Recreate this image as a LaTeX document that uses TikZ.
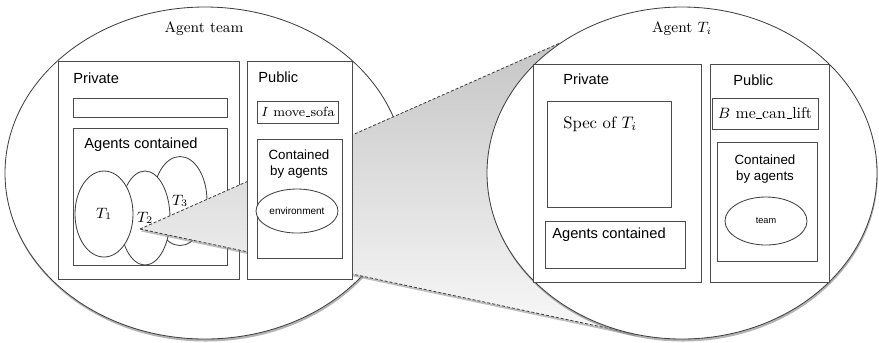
\documentclass[tikz,border=0pt]{standalone}
\usepackage{fontspec}
\setsansfont{Liberation Sans}
\usepackage{tikz}
\usetikzlibrary{shapes.geometric,shadows}
\newcommand{\usc}{\kern.04em\rule[-0.12ex]{0.32em}{0.4pt}\kern.04em}
\tikzset{
  box/.style={draw=black!70, fill=white, line width=0.5pt},
  bubble/.style={draw=black!75, fill=white, line width=0.5pt,
    drop shadow={shadow xshift=0.4pt, shadow yshift=-1.5pt, opacity=0.6}},
  lbl/.style={font=\sffamily\fontsize{8.8}{10}\selectfont, inner sep=0pt, anchor=west},
  cont/.style={font=\sffamily\fontsize{8}{9.6}\selectfont, align=center, inner sep=0pt},
  agell/.style={ellipse, draw=black!75, fill=white, line width=0.5pt, inner sep=0pt},
  conedge/.style={draw=black!75, line width=0.5pt, dash pattern=on 1.8pt off 1.2pt}
}
\begin{document}
\begin{tikzpicture}[x=0.6pt, y=-0.6pt]
  \useasboundingbox (0,0) rectangle (879,342);

  % Agent team
  \draw[bubble] (205,173) ellipse [x radius=200, y radius=166];
  \node[font=\small] (teamttl) at (204,29) {Agent team};
  \draw[box] (58,61) rectangle (239,279);
  \node[lbl] (privL) at (73,78) {Private};
  \draw[box] (73,98) rectangle (227,117);
  \draw[box] (73,128) rectangle (227,265);
  \node[lbl] (agtL) at (84,145) {Agents contained};
  \node[agell, font=\small, minimum width=32.4pt, minimum height=53.4pt] (T3) at (180,201) {$T_3$};
  \node[agell, font=\small, minimum width=30pt, minimum height=56.4pt] (T2) at (145,218) {$T_2$};
  \node[agell, font=\small, minimum width=34.8pt, minimum height=51.6pt] (T1) at (104,214) {$T_1$};

  % zoom cone
  \coordinate (tip) at (140,229);
  \coordinate (ctop) at (560,43);
  \coordinate (cbot) at (635,334);
  \path[drop shadow={shadow xshift=0.3pt, shadow yshift=-1.4pt, opacity=0.5},
    top color=gray!45, bottom color=gray!5] (tip) -- (ctop) -- (682,173) -- (cbot) -- cycle;
  \draw[conedge] (tip) -- (ctop);
  \draw[conedge] (tip) -- (cbot);

  \draw[box] (247,61) rectangle (352,279);
  \node[lbl] (pubL) at (258,77) {Public};
  \draw[box] (257,101) rectangle (338,123);
  \node[font=\fontsize{8}{9.5}\selectfont, inner sep=0pt] (sofa) at (298,112) {$I$ move\usc sofa};
  \draw[box] (257,139) rectangle (342,258);
  \node[cont] (contL) at (299,164) {Contained\\by agents};
  \node[agell, font=\sffamily\fontsize{6}{7}\selectfont, minimum width=49.2pt,
    minimum height=26.4pt] (env) at (297,211) {environment};

  % Agent T_i
  \draw[bubble] (682,173) ellipse [x radius=195, y radius=166];
  \node[font=\small] (tittl) at (682,29) {Agent $T_i$};
  \draw[box] (533,64) rectangle (701,282);
  \node[lbl] (privR) at (563,79) {Private};
  \draw[box] (547,101) rectangle (671,207);
  \node[anchor=west, inner sep=0pt] (spec) at (563,124) {Spec of $T_i$};
  \draw[box] (545,221) rectangle (685,268);
  \node[lbl] (agtR) at (552,235) {Agents contained};
  \draw[box] (710,64) rectangle (829,282);
  \node[lbl] (pubR) at (733,80) {Public};
  \draw[box] (712,98) rectangle (818,129);
  \node[font=\fontsize{9.5}{11}\selectfont, inner sep=0pt] (lift) at (765,113) {$B$ me\usc can\usc lift};
  \draw[box] (717,142) rectangle (817,261);
  \node[cont] (contR) at (765,169) {Contained\\by agents};
  \node[agell, font=\sffamily\fontsize{5.5}{6.5}\selectfont, minimum width=49.2pt,
    minimum height=28.8pt] (team) at (766,221) {team};
\end{tikzpicture}
\end{document}
